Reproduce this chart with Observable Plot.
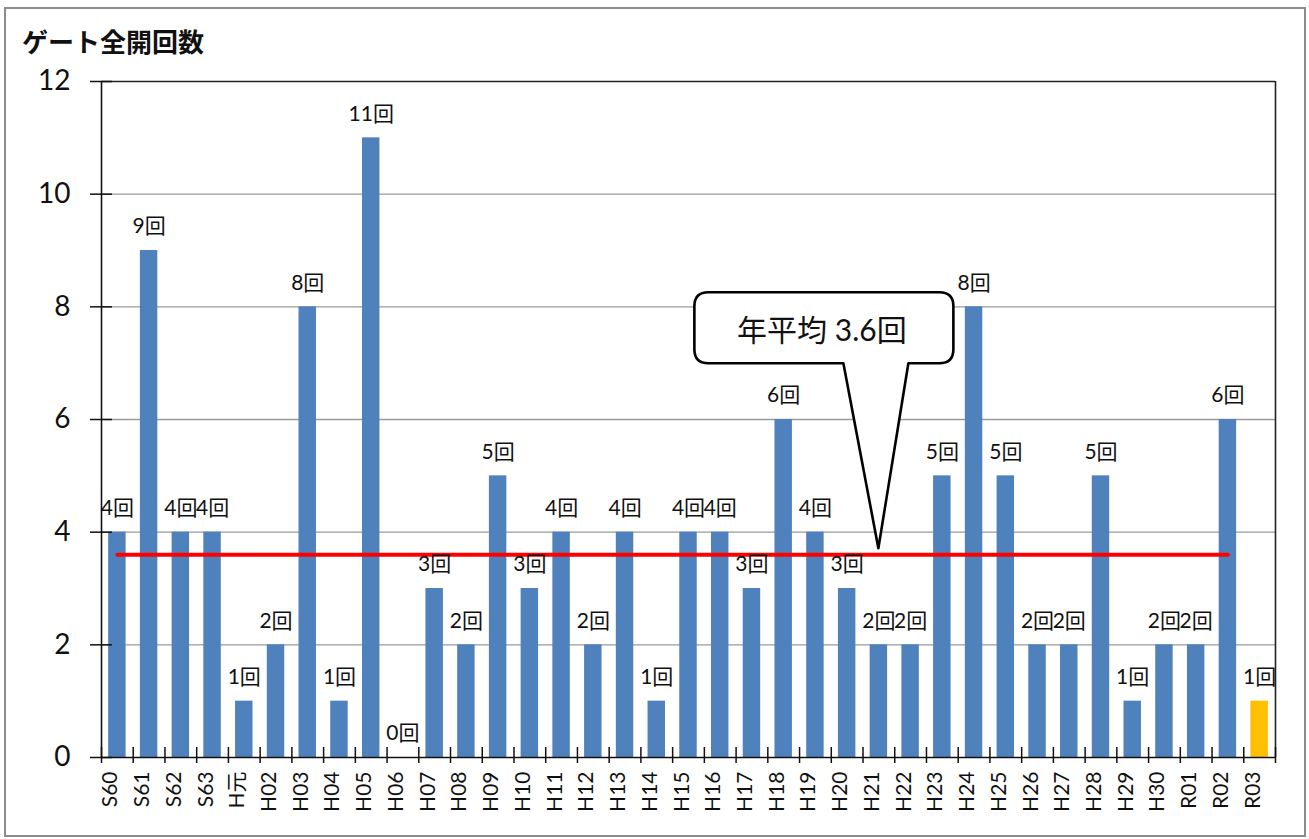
<!DOCTYPE html>
<html><head><meta charset="utf-8">
<script src="https://cdn.jsdelivr.net/npm/d3@7"></script>
<script src="https://cdn.jsdelivr.net/npm/@observablehq/plot@0.6"></script>
<style>
body{margin:0;background:#fff;width:1309px;height:839px;overflow:hidden;}
#frame{position:absolute;left:4px;top:7px;width:1298px;height:826px;border:2px solid #8c8c8c;}
#title{position:absolute;left:22px;top:22px;font:bold 26px 'Noto Sans CJK JP',sans-serif;color:#111;}
#chart{position:absolute;left:0;top:0;}
</style></head><body>
<div id="frame"></div>
<div id="title">ゲート全開回数</div>
<div id="chart"></div>
<script>
// ---- data ----
const years = ["S60","S61","S62","S63","H元","H02","H03","H04","H05","H06","H07","H08","H09","H10","H11","H12","H13","H14","H15","H16","H17","H18","H19","H20","H21","H22","H23","H24","H25","H26","H27","H28","H29","H30","R01","R02","R03"];
const counts = [4,9,4,4,1,2,8,1,11,0,3,2,5,3,4,2,4,1,4,4,3,6,4,3,2,2,5,8,5,2,2,5,1,2,2,6,1];
const highlightYears = ["R03"];
const averageValue = 3.6;
const averageYears = years.slice(0, -1);
const calloutYear = "H21";
const calloutText = "年平均 3.6回";
const yTicks = [0,2,4,6,8,10,12];
const gridTicks = [2,4,6,8,10];

const data = years.map((y,i)=>({year:y, count:counts[i], hl: highlightYears.includes(y)}));

const W = 1309, H = 839, ML = 101, MR = 34, MT = 81, MB = 82;
const FW = W - ML - MR, FH = H - MT - MB;
const step = FW / years.length;
const font = "Lato, 'Noto Sans CJK JP', sans-serif";

function callout(index, scales) {
  const x = scales.x, y = scales.y;
  const bw = x.bandwidth ? x.bandwidth() : 0;
  const tx = x(calloutYear) + bw/2;
  const ty = y(averageValue) - 6;
  const L = tx - 184, R = tx + 75, T = ty - 256, B = ty - 185, r = 14;
  const g = d3.create("svg:g");
  g.append("path")
    .attr("d", `M${L+r},${T}H${R-r}Q${R},${T} ${R},${T+r}V${B-r}Q${R},${B} ${R-r},${B}H${tx+30}L${tx},${ty}L${tx-35},${B}H${L+r}Q${L},${B} ${L},${B-r}V${T+r}Q${L},${T} ${L+r},${T}Z`)
    .attr("fill","#fff").attr("stroke","#000").attr("stroke-width",2.6).attr("stroke-linejoin","round");
  g.append("text")
    .attr("x",(L+R)/2 - 2).attr("y",(T+B)/2 + 1)
    .attr("text-anchor","middle").attr("dominant-baseline","central")
    .attr("font-family",font).attr("font-size",30).attr("fill","#111")
    .text(calloutText);
  return g.node();
}

const chart = Plot.plot({
  width: W, height: H,
  marginLeft: ML, marginRight: MR, marginTop: MT, marginBottom: MB,
  style: {fontFamily: font, background: "transparent"},
  x: {type: "band", domain: years, paddingInner: 0.45, paddingOuter: 0.225, round: false, axis: null},
  y: {domain: [0, 12], axis: null},
  marks: [
    Plot.ruleY(gridTicks, {stroke: "#9a9a9a", strokeWidth: 1.4}),
    Plot.ruleY([12], {stroke: "#222", strokeWidth: 1.6}),
    Plot.barY(data.filter(d=>!d.hl), {x: "year", y: "count", fill: "#4f81bd"}),
    Plot.barY(data.filter(d=>d.hl), {x: "year", y: "count", fill: "#ffc000"}),
    Plot.ruleX([years[years.length-1]], {dx: step/2, stroke: "#222", strokeWidth: 1.6}),
    Plot.ruleX([years[0]], {dx: -step/2, stroke: "#111", strokeWidth: 1.6}),
    Plot.ruleY([0], {stroke: "#111", strokeWidth: 1.6}),
    Plot.ruleX(years, {dx: -step/2, insetTop: FH - 10, insetBottom: -6, stroke: "#111", strokeWidth: 1.5}),
    Plot.ruleX([years[years.length-1]], {dx: step/2, insetTop: FH - 10, insetBottom: -6, stroke: "#111", strokeWidth: 1.5}),
    Plot.ruleY(yTicks, {insetLeft: -11, insetRight: FW - 11, stroke: "#111", strokeWidth: 1.5}),
    Plot.lineY(averageYears, {x: d=>d, y: ()=>averageValue, stroke: "#ff0000", strokeWidth: 4}),
    Plot.text(yTicks, {y: d=>d, text: d=>String(d), frameAnchor: "left", dx: -31, textAnchor: "end", fontSize: 28, fill: "#111"}),
    Plot.text(years, {x: d=>d, text: d=>d, frameAnchor: "bottom", rotate: -90, textAnchor: "end", dy: 14, fontSize: 21, fill: "#111"}),
    Plot.text(data, {x: "year", y: "count", text: d=>`${d.count}回`, dy: -24, fontSize: 21, fill: "#111"}),
    callout
  ]
});
document.getElementById("chart").appendChild(chart);
</script>
</body></html>
